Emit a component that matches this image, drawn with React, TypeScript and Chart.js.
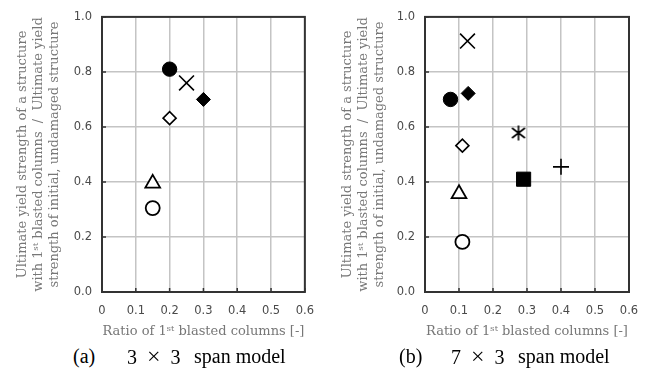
import React, { useEffect, useRef } from 'react';
import { Chart, registerables } from 'chart.js';

Chart.register(...registerables);

// ---- data ----
const xTickLabels = ['0', '0.1', '0.2', '0.3', '0.4', '0.5', '0.6'];
const yTickLabels = ['0.0', '0.2', '0.4', '0.6', '0.8', '1.0'];

// (a) 3x3 span model
const modelAX = [0.2, 0.25, 0.3, 0.2, 0.15, 0.15];
const modelAY = [0.81, 0.76, 0.7, 0.632, 0.395, 0.305];
const modelAMarkers = ['filledCircle', 'cross', 'filledDiamond', 'openDiamond', 'openTriangle', 'openCircle'];

// (b) 7x3 span model
const modelBX = [0.125, 0.075, 0.127, 0.275, 0.11, 0.4, 0.29, 0.1, 0.11];
const modelBY = [0.912, 0.7, 0.722, 0.578, 0.532, 0.455, 0.41, 0.357, 0.182];
const modelBMarkers = ['cross', 'filledCircle', 'filledDiamond', 'asterisk', 'openDiamond', 'plus', 'filledSquare', 'openTriangle', 'openCircle'];

const yTitle = [
  'Ultimate yield strength of a structure',
  'with 1ˢᵗ blasted columns  /  Ultimate yield',
  'strength of initial, undamaged structure',
];
const xTitle = 'Ratio of 1ˢᵗ blasted columns [-]';

// ---- marker styles ----
function makeAsterisk(): HTMLCanvasElement {
  const c = document.createElement('canvas');
  c.width = 16;
  c.height = 16;
  const g = c.getContext('2d')!;
  g.strokeStyle = '#000';
  g.lineWidth = 1.6;
  g.beginPath();
  g.moveTo(8, 0.5); g.lineTo(8, 15.5);
  g.moveTo(1.5, 3); g.lineTo(14.5, 13);
  g.moveTo(14.5, 3); g.lineTo(1.5, 13);
  g.stroke();
  return c;
}

function markerStyle(name: string, asterisk: HTMLCanvasElement) {
  switch (name) {
    case 'filledCircle': return { style: 'circle', r: 7.2, bg: '#000', bw: 1 };
    case 'openCircle': return { style: 'circle', r: 7, bg: '#fff', bw: 1.8 };
    case 'openTriangle': return { style: 'triangle', r: 8.5, bg: '#fff', bw: 1.8 };
    case 'filledDiamond': return { style: 'rectRot', r: 7, bg: '#000', bw: 1 };
    case 'openDiamond': return { style: 'rectRot', r: 6.5, bg: '#fff', bw: 1.6 };
    case 'cross': return { style: 'crossRot', r: 10.5, bg: '#000', bw: 1.6 };
    case 'plus': return { style: 'cross', r: 8, bg: '#000', bw: 1.6 };
    case 'filledSquare': return { style: 'rect', r: 10, bg: '#000', bw: 1 };
    case 'asterisk': return { style: asterisk, r: 8, bg: '#000', bw: 1.6 };
    default: return { style: 'circle', r: 5, bg: '#000', bw: 1 };
  }
}

const framePlugin = {
  id: 'frame',
  beforeDatasetsDraw(chart: any) {
    const { ctx, chartArea } = chart;
    const { left, right, top, bottom } = chartArea;
    ctx.save();
    ctx.strokeStyle = '#333';
    ctx.lineWidth = 1.5;
    ctx.beginPath();
    const xs = chart.scales.x;
    xs.ticks.forEach((_t: any, i: number) => {
      const p = xs.getPixelForTick(i);
      ctx.moveTo(p, bottom);
      ctx.lineTo(p, bottom - 4);
    });
    const ys = chart.scales.y;
    ys.ticks.forEach((_t: any, i: number) => {
      const p = ys.getPixelForTick(i);
      ctx.moveTo(left, p);
      ctx.lineTo(left + 4, p);
    });
    ctx.stroke();
    ctx.lineWidth = 2;
    ctx.strokeRect(left, top, right - left, bottom - top);
    ctx.restore();
  },
};

type PanelProps = {
  xs: number[];
  ys: number[];
  markers: string[];
  width: number;
  height: number;
  axisWidth: number;
  padRight: number;
  titleTop: number;
};

function Panel({ xs, ys, markers, width, height, axisWidth, padRight, titleTop }: PanelProps) {
  const ref = useRef<HTMLCanvasElement>(null);
  useEffect(() => {
    if (!ref.current) return;
    const ast = makeAsterisk();
    const st = markers.map((m) => markerStyle(m, ast));
    const chart = new Chart(ref.current, {
      type: 'scatter',
      data: {
        datasets: [
          {
            data: xs.map((x, i) => ({ x, y: ys[i] })),
            pointStyle: st.map((s) => s.style) as any,
            pointRadius: st.map((s) => s.r),
            pointHoverRadius: st.map((s) => s.r),
            pointBackgroundColor: st.map((s) => s.bg),
            pointBorderColor: '#000',
            pointBorderWidth: st.map((s) => s.bw),
            showLine: false,
          },
        ],
      },
      options: {
        animation: false,
        responsive: false,
        maintainAspectRatio: false,
        events: [],
        layout: { padding: { left: 0, right: padRight, top: 14, bottom: 0 } },
        plugins: { legend: { display: false }, tooltip: { enabled: false } },
        scales: {
          x: {
            type: 'linear',
            min: 0,
            max: 0.6,
            ticks: {
              stepSize: 0.1,
              autoSkip: false,
              maxRotation: 0,
              padding: 12,
              color: '#4a4a4a',
              font: { family: 'DejaVu Sans', size: 11.5 },
              callback: (_v: any, i: number) => xTickLabels[i],
            },
            grid: { color: '#c4c4c4', lineWidth: 1.5, drawTicks: false },
            border: { display: false },
            title: {
              display: true,
              text: xTitle,
              color: '#777',
              font: { family: 'DejaVu Serif', size: 13, lineHeight: 16 / 13 },
              padding: { top: 0, bottom: 5 },
            },
            afterFit: (s: any) => {
              s.height = 53;
            },
          },
          y: {
            type: 'linear',
            min: 0,
            max: 1,
            ticks: {
              stepSize: 0.2,
              padding: 10,
              color: '#4a4a4a',
              font: { family: 'DejaVu Sans', size: 11.5 },
              callback: (_v: any, i: number) => yTickLabels[i],
            },
            grid: { color: '#c4c4c4', lineWidth: 1.5, drawTicks: false },
            border: { display: false },
            title: {
              display: true,
              text: yTitle,
              color: '#777',
              font: { family: 'DejaVu Serif', size: 13, lineHeight: 16 / 13 },
              padding: { top: titleTop, bottom: 0 },
            },
            afterFit: (s: any) => {
              s.width = axisWidth;
            },
          },
        },
      },
      plugins: [framePlugin],
    });
    return () => chart.destroy();
  }, []);
  return <canvas ref={ref} width={width} height={height} style={{ width, height, display: 'block' }} />;
}

const captionStyle: React.CSSProperties = {
  position: 'absolute',
  top: 346,
  fontFamily: '"Liberation Serif", serif',
  fontSize: 20,
  lineHeight: '20px',
  color: '#000',
  whiteSpace: 'pre',
};

export default function App() {
  return (
    <div style={{ position: 'fixed', left: 0, top: 0, width: 653, height: 369, background: '#fff', overflow: 'hidden' }}>
      <div style={{ position: 'absolute', left: 0, top: 0 }}>
        <Panel xs={modelAX} ys={modelAY} markers={modelAMarkers} width={326} height={345} axisWidth={102} padRight={20} titleTop={15} />
      </div>
      <div style={{ position: 'absolute', left: 326, top: 0 }}>
        <Panel xs={modelBX} ys={modelBY} markers={modelBMarkers} width={327} height={345} axisWidth={99} padRight={24} titleTop={14} />
      </div>
      <span style={{ ...captionStyle, left: 73 }}>(a)</span>
      <span style={{ ...captionStyle, left: 127 }}>3<span style={{ margin: '0 10px', fontSize: 24, lineHeight: '20px' }}>×</span>3</span>
      <span style={{ ...captionStyle, left: 194 }}>span model</span>
      <span style={{ ...captionStyle, left: 399 }}>(b)</span>
      <span style={{ ...captionStyle, left: 451 }}>7<span style={{ margin: '0 10px', fontSize: 24, lineHeight: '20px' }}>×</span>3</span>
      <span style={{ ...captionStyle, left: 518 }}>span model</span>
    </div>
  );
}
